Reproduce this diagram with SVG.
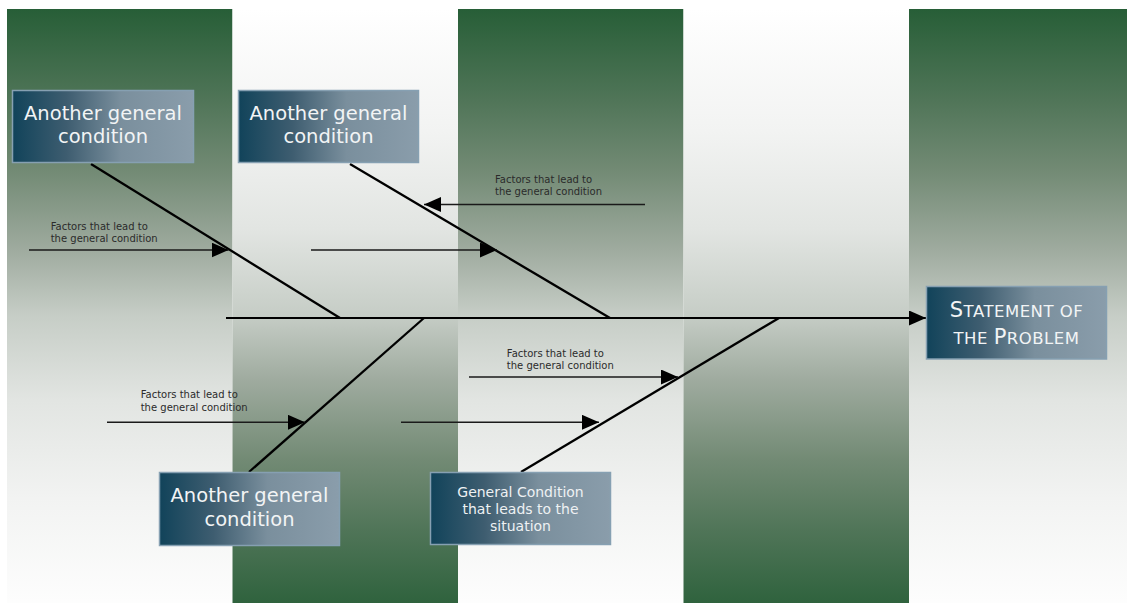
<svg xmlns="http://www.w3.org/2000/svg" width="1127" height="603" viewBox="0 0 1127 603">
  <defs>
    <linearGradient id="gTop" gradientUnits="userSpaceOnUse" x1="0" y1="9" x2="0" y2="621">
      <stop offset="0" stop-color="#275e37"/>
      <stop offset="0.149" stop-color="#507558"/>
      <stop offset="0.263" stop-color="#728a74"/>
      <stop offset="0.394" stop-color="#9fab9f"/>
      <stop offset="0.5" stop-color="#c6cdc6"/>
      <stop offset="0.64" stop-color="#e2e5e2"/>
      <stop offset="0.8" stop-color="#f2f3f2"/>
      <stop offset="1" stop-color="#ffffff"/>
    </linearGradient>
    <linearGradient id="gBot" gradientUnits="userSpaceOnUse" x1="0" y1="621" x2="0" y2="9">
      <stop offset="0" stop-color="#275e37"/>
      <stop offset="0.149" stop-color="#507558"/>
      <stop offset="0.263" stop-color="#728a74"/>
      <stop offset="0.394" stop-color="#9fab9f"/>
      <stop offset="0.5" stop-color="#c6cdc6"/>
      <stop offset="0.64" stop-color="#e2e5e2"/>
      <stop offset="0.8" stop-color="#f2f3f2"/>
      <stop offset="1" stop-color="#ffffff"/>
    </linearGradient>
    <linearGradient id="gBox" x1="0" y1="0" x2="1" y2="0">
      <stop offset="0" stop-color="#11435a"/>
      <stop offset="0.3" stop-color="#3e5d70"/>
      <stop offset="0.6" stop-color="#7a8f9d"/>
      <stop offset="1" stop-color="#8a9dab"/>
    </linearGradient>
    <marker id="ah" markerUnits="userSpaceOnUse" markerWidth="18" markerHeight="16" refX="17" refY="7.5" orient="auto">
      <path d="M0,0 L17,7.5 L0,15 Z" fill="#000"/>
    </marker>
    <style>
      .box { fill: url(#gBox); stroke: #86a0b2; stroke-width: 1.5; }
      .bt { font-family: "DejaVu Sans", Verdana, sans-serif; font-size: 19.5px; fill: #f2f4f5; text-anchor: middle; }
      .bt2 { font-family: "DejaVu Sans", Verdana, sans-serif; font-size: 14px; fill: #eef1f3; text-anchor: middle; }
      .st { font-family: "DejaVu Sans", Verdana, sans-serif; font-size: 16.5px; fill: #f2f4f5; text-anchor: middle; letter-spacing: 0.5px; }
      .big { font-size: 21px; }
      .ft { font-family: "DejaVu Sans", Verdana, sans-serif; font-size: 10px; fill: #2b2b2b; }
      .bone { stroke: #000; stroke-width: 2.3; fill: none; }
      .spine { stroke: #000; stroke-width: 2.2; fill: none; }
      .fac { stroke: #1a1a1a; stroke-width: 1.5; fill: none; }
    </style>
  </defs>

  <g id="background">
    <rect x="0" y="0" width="1127" height="603" fill="#ffffff"/>
    <rect x="7" y="9" width="225.5" height="594" fill="url(#gTop)"/>
    <rect x="232.5" y="9" width="225.5" height="594" fill="url(#gBot)"/>
    <rect x="458" y="9" width="225.5" height="594" fill="url(#gTop)"/>
    <rect x="683.5" y="9" width="225.5" height="594" fill="url(#gBot)"/>
    <rect x="909" y="9" width="218" height="594" fill="url(#gTop)"/>
  </g>

  <g id="connectors">
    <line class="spine" x1="226" y1="318" x2="926" y2="318" marker-end="url(#ah)"/>
    <line class="bone" x1="91" y1="164" x2="340" y2="318"/>
    <line class="bone" x1="350" y1="164" x2="610" y2="318"/>
    <line class="bone" x1="424" y1="318" x2="249" y2="472"/>
    <line class="bone" x1="779" y1="318" x2="521" y2="472"/>
    <line class="fac" x1="29" y1="250" x2="228.5" y2="250" marker-end="url(#ah)"/>
    <line class="fac" x1="311" y1="250" x2="497" y2="250" marker-end="url(#ah)"/>
    <line class="fac" x1="645" y1="204.5" x2="424" y2="204.5" marker-end="url(#ah)"/>
    <line class="fac" x1="469" y1="377" x2="678" y2="377" marker-end="url(#ah)"/>
    <line class="fac" x1="107" y1="422.3" x2="305" y2="422.3" marker-end="url(#ah)"/>
    <line class="fac" x1="401" y1="422.3" x2="599" y2="422.3" marker-end="url(#ah)"/>
  </g>

  <g id="factors1">
    <text class="ft" x="50.7" y="230">Factors that lead to</text>
    <text class="ft" x="50.7" y="242.4">the general condition</text>
  </g>
  <g id="factors2">
    <text class="ft" x="495" y="182.7">Factors that lead to</text>
    <text class="ft" x="495" y="195">the general condition</text>
  </g>
  <g id="factors3">
    <text class="ft" x="140.7" y="398.3">Factors that lead to</text>
    <text class="ft" x="140.7" y="410.7">the general condition</text>
  </g>
  <g id="factors4">
    <text class="ft" x="506.8" y="357">Factors that lead to</text>
    <text class="ft" x="506.8" y="369.3">the general condition</text>
  </g>

  <g id="node-condition1">
    <rect class="box" x="12.5" y="90.5" width="181" height="72"/>
    <text class="bt" x="103" y="120">Another general</text>
    <text class="bt" x="103" y="143.3">condition</text>
  </g>
  <g id="node-condition2">
    <rect class="box" x="238.5" y="90.5" width="180" height="72"/>
    <text class="bt" x="328.5" y="120">Another general</text>
    <text class="bt" x="328.5" y="143.3">condition</text>
  </g>
  <g id="node-condition3">
    <rect class="box" x="159.5" y="472.5" width="180" height="73"/>
    <text class="bt" x="249.5" y="502.3">Another general</text>
    <text class="bt" x="249.5" y="525.7">condition</text>
  </g>
  <g id="node-condition4">
    <rect class="box" x="430.5" y="472.5" width="180" height="72"/>
    <text class="bt2" x="520.5" y="496.7">General Condition</text>
    <text class="bt2" x="520.5" y="514">that leads to the</text>
    <text class="bt2" x="520.5" y="531.3">situation</text>
  </g>
  <g id="node-problem">
    <rect class="box" x="926.5" y="286.5" width="180" height="72.5"/>
    <text class="st" x="1016.5" y="317.3"><tspan class="big">S</tspan>TATEMENT OF</text>
    <text class="st" x="1016.5" y="344">THE <tspan class="big">P</tspan>ROBLEM</text>
  </g>
</svg>
